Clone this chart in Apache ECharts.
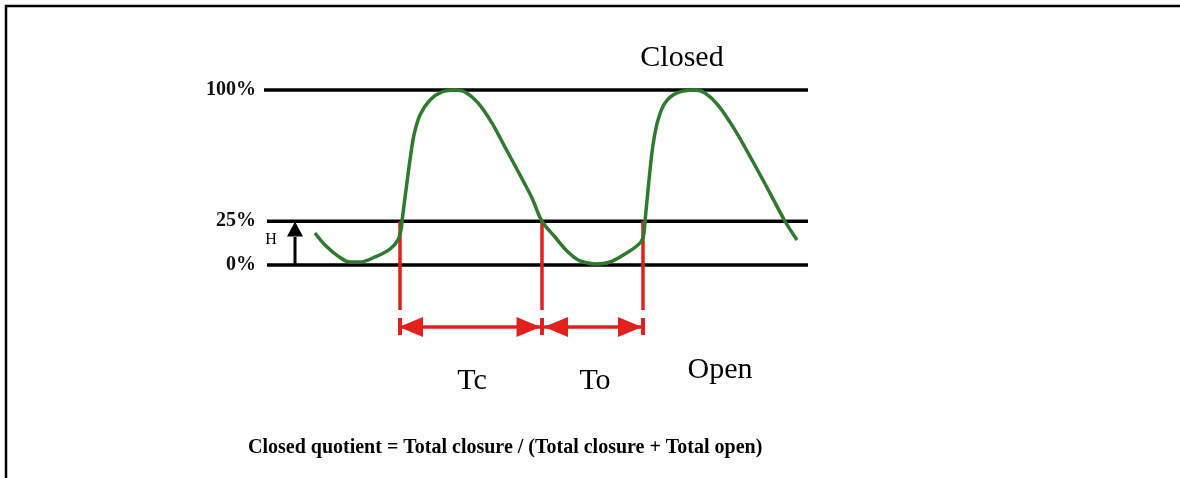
<!DOCTYPE html>
<html><head><meta charset="utf-8">
<script src="https://cdn.jsdelivr.net/npm/echarts@6/dist/echarts.min.js"></script>
<style>html,body{margin:0;padding:0;background:#fff}#c{width:1180px;height:478px}</style>
</head><body><div id="c"></div>
<script>
// ---- data ----
const levelValues = [0, 25, 100];
const levelLabels = ['0%', '25%', '100%'];
const levelStart = [0.6, 0.6, 0];
const levelEnd = 108.8;

const curveT = [10.2, 12.2, 14.8, 17.2, 19.2, 22.2, 25.2, 26.8, 27.4, 27.6, 28.4, 29.2, 30, 31.2, 33.2, 35.6, 38.2, 40.2, 42.8, 45.6, 48.2, 51.2, 53.6, 55.6, 58.2, 60.8, 63.2, 66.2, 69.2, 72.2, 74.8, 75.8, 76.2, 77, 77.8, 78.8, 80.2, 82.6, 86.2, 88.2, 90.8, 94.2, 97.6, 101.2, 104.2, 106.6];
const curveY = [18.3, 11.4, 5.1, 1.7, 1.7, 4.6, 9.1, 14.3, 20, 25, 42.9, 60, 74.3, 85.7, 94.3, 98.9, 100, 98.9, 92.6, 81.1, 67.4, 51.4, 38.3, 25, 16, 7.4, 2.3, 0.6, 1.7, 6.3, 11.4, 15.4, 25, 48.6, 68.6, 82.9, 92.6, 98.3, 100, 98.3, 91.4, 77.1, 60, 41.1, 25, 14.3];

const crossT = [27.2, 55.6, 75.8];        // crossings of the 25% level
const crossTop = 25;
const crossBottom = -25.7;
const spanY = -35.4;                      // level of Tc / To arrows
const capTop = -30.3, capBottom = -40;
const headT = [29.4, 52.9, 58.4, 73.2];
const headDir = ['left', 'right', 'left', 'right'];

const hArrowT = 6.2;
const hShaft = [0, 16];
const hHeadY = 20.6;

const notes = [
  { name: 'Closed', t: 83.6, y: 118.3, size: 30 },
  { name: 'Open', t: 91.2, y: -60, size: 30 },
  { name: 'Tc', t: 41.6, y: -66.3, size: 30 },
  { name: 'To', t: 66.2, y: -66.3, size: 30 },
  { name: 'H', t: 1.4, y: 14.3, size: 16, bold: false }
];
const formulaText = 'Closed quotient = Total closure / (Total closure + Total open)';

// ---- chart ----
const GREEN = '#2e7b2e', RED = '#e3201b', BLACK = '#000';
const SERIF = 'Liberation Serif, Times New Roman, serif';
const series = [];

levelValues.forEach((v, i) => {
  series.push({ type: 'line', silent: true, symbol: 'none', z: 2,
    lineStyle: { color: BLACK, width: 3.5 },
    data: [[levelStart[i], v], [levelEnd, v]] });
});

series.push({ type: 'line', silent: true, symbol: 'none', smooth: 0.35, z: 4,
  lineStyle: { color: GREEN, width: 3.5 },
  data: curveT.map((t, i) => [t, curveY[i]]) });

crossT.forEach(t => {
  series.push({ type: 'line', silent: true, symbol: 'none', z: 3,
    lineStyle: { color: RED, width: 3.5 }, data: [[t, crossTop], [t, crossBottom]] });
  series.push({ type: 'line', silent: true, symbol: 'none', z: 3,
    lineStyle: { color: RED, width: 4 }, data: [[t, capTop], [t, capBottom]] });
});
for (let i = 0; i < crossT.length - 1; i++) {
  series.push({ type: 'line', silent: true, symbol: 'none', z: 3,
    lineStyle: { color: RED, width: 3.5 }, data: [[crossT[i], spanY], [crossT[i + 1], spanY]] });
}
series.push({ type: 'scatter', silent: true, symbol: 'triangle', symbolSize: [20, 24], z: 5,
  itemStyle: { color: RED, opacity: 1 },
  data: headT.map((t, i) => ({ value: [t, spanY], symbolRotate: headDir[i] === 'left' ? 90 : -90 })) });

series.push({ type: 'line', silent: true, symbol: 'none', z: 3,
  lineStyle: { color: BLACK, width: 3 }, data: [[hArrowT, hShaft[0]], [hArrowT, hShaft[1]]] });
series.push({ type: 'scatter', silent: true, symbol: 'triangle', symbolSize: [16, 15], z: 5,
  itemStyle: { color: BLACK, opacity: 1 }, data: [[hArrowT, hHeadY]] });

notes.forEach(n => {
  series.push({ type: 'scatter', silent: true, symbolSize: 0, z: 6,
    itemStyle: { opacity: 1 },
    label: { show: true, position: 'inside', formatter: n.name, color: '#000', opacity: 1,
      fontFamily: SERIF, fontSize: n.size, fontWeight: n.bold ? 'bold' : 'normal' },
    data: [[n.t, n.y]] });
});

const chart = echarts.init(document.getElementById('c'), null, { renderer: 'canvas' });
chart.setOption({
  animation: false,
  backgroundColor: '#fff',
  title: { text: formulaText, left: 243, top: 433,
    textStyle: { fontFamily: SERIF, fontSize: 20, fontWeight: 'bold', color: '#000' } },
  grid: { left: 264, right: 371, top: 46.25, height: 393.75 },
  xAxis: { type: 'value', min: 0, max: 109, show: false },
  yAxis: { type: 'value', min: -100, max: 125, interval: 25,
    axisLine: { show: false }, axisTick: { show: false }, splitLine: { show: false },
    axisLabel: { margin: 8, color: '#111', fontFamily: SERIF, fontWeight: 'bold', fontSize: 20,
      formatter: v => { const k = levelValues.indexOf(v); return k >= 0 ? levelLabels[k] : ''; } } },
  graphic: [{ type: 'polyline', silent: true, shape: { points: [[6, 478], [6, 6], [1180, 6]] },
    style: { stroke: '#000', lineWidth: 2.5, fill: null } }],
  series
});
</script></body></html>
